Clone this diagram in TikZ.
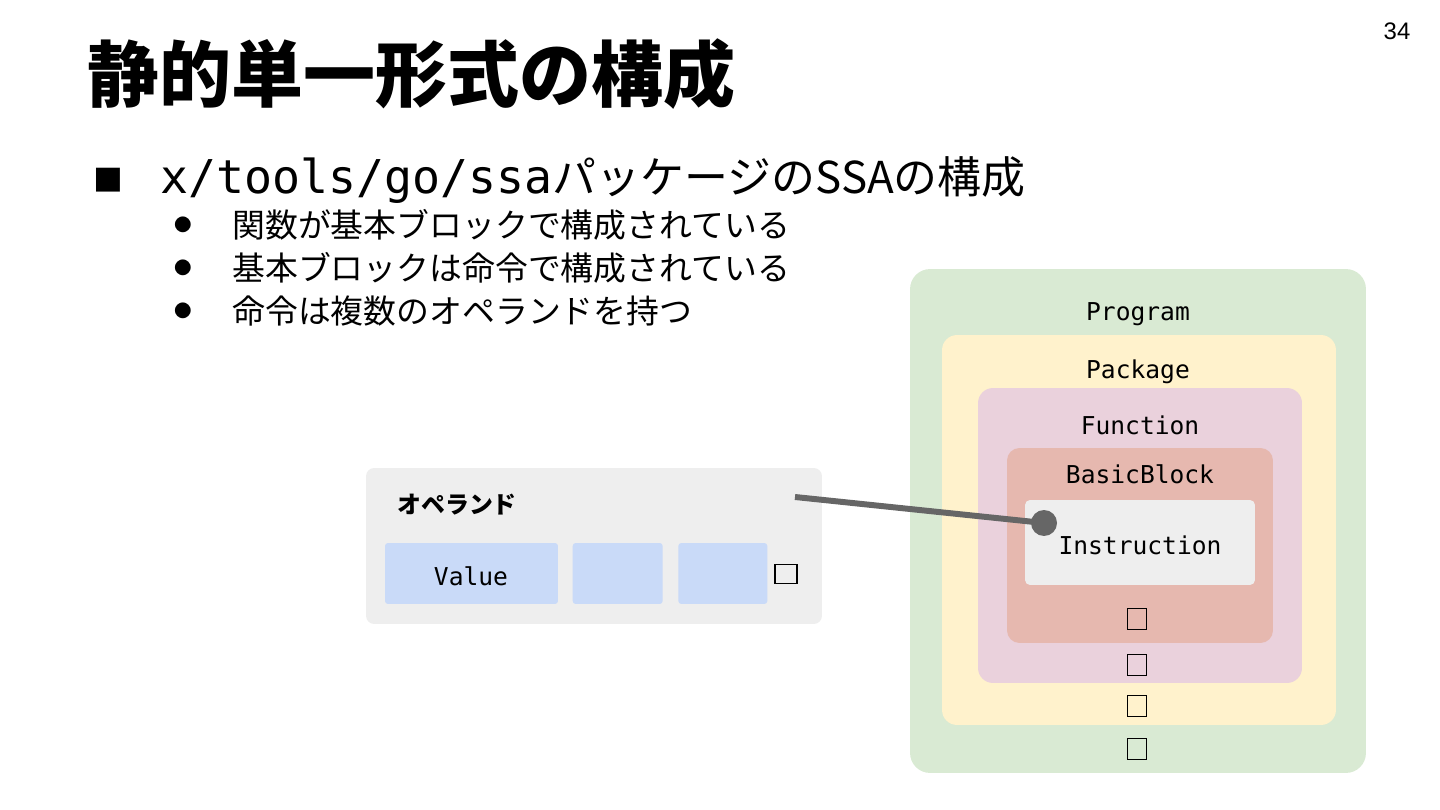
\documentclass[tikz,border=0pt]{standalone}
\usepackage{fontspec}
\setmainfont{Liberation Sans}
\setsansfont{Liberation Sans}
\setmonofont{DejaVu Sans Mono}
\newfontfamily\jafont{Noto Sans CJK JP}
\usepackage{tikz}
\usetikzlibrary{positioning}
\definecolor{progfill}{HTML}{D9EAD3}
\definecolor{pkgfill}{HTML}{FFF2CC}
\definecolor{funcfill}{HTML}{EAD1DC}
\definecolor{bbfill}{HTML}{E6B8AF}
\definecolor{insfill}{HTML}{EEEEEE}
\definecolor{valfill}{HTML}{C9DAF8}
\definecolor{wiregray}{HTML}{666666}

\begin{document}
\begin{tikzpicture}[
    x=0.02cm, y=-0.02cm,
    layer/.style={
		rectangle,
		rounded corners=0.3cm,
		inner sep=0pt
	},
	tag/.style={
		font=\ttfamily\fontsize{14}{16}\selectfont,
		inner sep=0pt
	},
	valbox/.style={
		rectangle,
		rounded corners=0.06cm,
		fill=valfill,
		minimum height=1.22cm,
		inner sep=0pt
	},
	tofu/.style={
		rectangle,
		draw=black,
		line width=0.6pt,
		minimum width=0.38cm,
		minimum height=0.42cm,
		inner sep=0pt
	},
	jline/.style={
		anchor=west,
		inner sep=0pt,
		font=\jafont\fontsize{18.7}{20}\selectfont
	},
	bulletmark/.style={
		inner sep=0pt,
		font=\jafont\fontsize{10}{12}\selectfont
	}
  ]
  \useasboundingbox (0,0) rectangle (1440,810);

  % heading and page number
  \node [anchor=west, inner sep=0pt, font=\jafont\bfseries\fontsize{41}{46}\selectfont] (title) at (87,74) {静的単一形式の構成};
  \node [inner sep=0pt, font=\sffamily\fontsize{13.6}{15}\selectfont] (pageno) at (1397,31) {34};

  % bullet list
  \node [inner sep=0pt, font=\jafont\fontsize{17}{19}\selectfont] (sq) at (108,180) {■};
  \node [anchor=west, inner sep=0pt] (sub) at (160,180)
 {{\ttfamily\fontsize{26.5}{28}\selectfont x/tools/go/ssa}{\jafont\fontsize{25}{28}\selectfont パッケージのSSAの構成}};
  \node [bulletmark] (dot1) at (183,225) {●};
  \node [bulletmark] (dot2) at (183,268) {●};
  \node [bulletmark] (dot3) at (183,311) {●};
  \node [jline] (item1) at (232,225) {関数が基本ブロックで構成されている};
  \node [jline] (item2) at (232,268) {基本ブロックは命令で構成されている};
  \node [jline] (item3) at (232,311) {命令は複数のオペランドを持つ};

  % nested blocks
  \node [layer, rounded corners=0.4cm, fill=progfill, minimum width=9.12cm, minimum height=10.08cm] (program) at (1138,521) {};
  \node [layer, fill=pkgfill, minimum width=7.88cm, minimum height=7.8cm] (package) at (1139,530) {};
  \node [layer, fill=funcfill, minimum width=6.48cm, minimum height=5.9cm] (function) at (1140,535.5) {};
  \node [layer, rounded corners=0.25cm, fill=bbfill, minimum width=5.32cm, minimum height=3.9cm] (block) at (1140,545.5) {};
  \node [layer, rounded corners=0.1cm, fill=insfill, minimum width=4.6cm, minimum height=1.7cm] (instr) at (1140,542.5) {};

  \node [tag] (programlbl) at (1138,314) {Program};
  \node [tag] (packagelbl) at (1138,372) {Package};
  \node [tag] (functionlbl) at (1140,425) {Function};
  \node [tag] (blocklbl) at (1140,474) {BasicBlock};
  \node [tag] (instrlbl) at (1140,545) {Instruction};

  \node [tofu] (more1) at (1137,619) {};
  \node [tofu] (more2) at (1137,665) {};
  \node [tofu] (more3) at (1137,706) {};
  \node [tofu] (more4) at (1137,749) {};

  % operand
  \node [layer, rounded corners=0.16cm, fill=insfill, minimum width=9.12cm, minimum height=3.12cm] (operand) at (594,546) {};
  \node [anchor=west, inner sep=0pt, font=\jafont\bfseries\fontsize{13.6}{15}\selectfont] (operandlbl) at (397,505) {オペランド};
  \node [valbox, minimum width=3.46cm] (val1) at (471.5,573.5) {};
  \node [valbox, minimum width=1.8cm, right=0.28cm of val1] (val2) {};
  \node [valbox, minimum width=1.78cm, right=0.3cm of val2] (val3) {};
  \node [tag] (vallbl) at (471,576) {Value};
  \node [tofu, minimum width=0.44cm, minimum height=0.38cm] (more5) at (786,574) {};

  \coordinate (opend) at (795,497);
  \node [circle, fill=wiregray, minimum size=0.52cm, inner sep=0pt] (insdot) at (1044,523) {};
  \draw [wiregray, line width=3.4pt] (opend) -- (insdot.center);

\end{tikzpicture}
\end{document}
